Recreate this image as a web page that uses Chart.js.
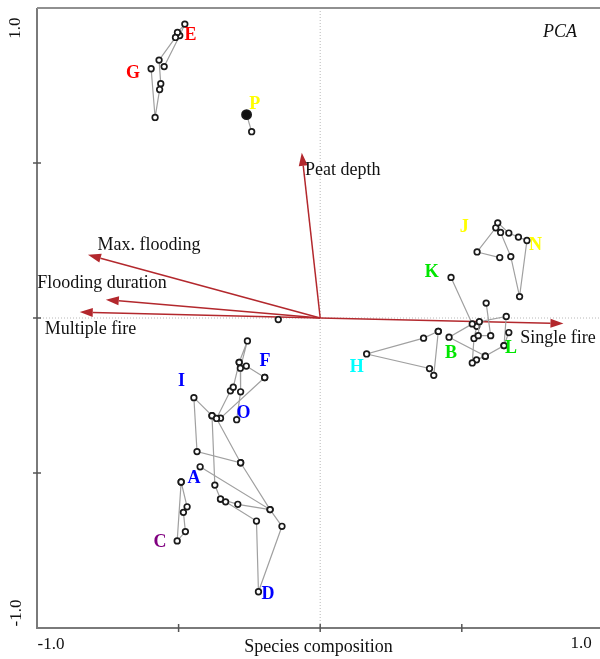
<!DOCTYPE html>
<html>
<head>
<meta charset="utf-8">
<script src="https://cdn.jsdelivr.net/npm/chart.js@4.4.1/dist/chart.umd.min.js"></script>
<style>
  body { margin: 0; background: #fff; }
</style>
</head>
<body>
<canvas id="grafico" width="600" height="659"></canvas>
<script>
// Trajetórias das parcelas (eixo 1, eixo 2)
const siteEG = [[-0.551,0.811],[-0.496,0.911],[-0.478,0.948],[-0.504,0.921],[-0.511,0.905],[-0.569,0.832],[-0.563,0.756],[-0.567,0.737],[-0.583,0.647],[-0.597,0.804]];
const siteP  = [[-0.260,0.656],[-0.242,0.601]];
const siteJN = [[0.634,0.195],[0.554,0.213],[0.620,0.291],[0.627,0.307],[0.666,0.274],[0.700,0.261],[0.730,0.250],[0.704,0.069],[0.673,0.198],[0.637,0.276]];
const siteKB = [[0.462,0.131],[0.537,-0.019],[0.455,-0.062],[0.583,-0.123],[0.649,-0.089],[0.666,-0.047]];
const siteL  = [[0.586,0.048],[0.602,-0.057],[0.558,-0.057],[0.562,-0.012],[0.657,0.005],[0.649,-0.089]];
const siteM  = [[0.583,-0.123],[0.552,-0.135],[0.537,-0.145],[0.543,-0.066],[0.553,-0.027]];
const siteH  = [[0.417,-0.043],[0.365,-0.065],[0.164,-0.116],[0.386,-0.163],[0.401,-0.185],[0.417,-0.043]];
const siteF  = [[-0.196,-0.192],[-0.261,-0.155],[-0.286,-0.143],[-0.257,-0.074],[-0.282,-0.162],[-0.281,-0.238],[-0.295,-0.328]];
const siteIO = [[-0.196,-0.192],[-0.352,-0.323],[-0.382,-0.315],[-0.446,-0.257],[-0.435,-0.431],[-0.281,-0.467],[-0.366,-0.324],[-0.317,-0.235],[-0.307,-0.223],[-0.286,-0.143]];
const siteD  = [[-0.382,-0.315],[-0.372,-0.539],[-0.352,-0.584],[-0.334,-0.593],[-0.225,-0.655],[-0.218,-0.883],[-0.135,-0.672],[-0.177,-0.618],[-0.281,-0.467]];
const siteA  = [[-0.424,-0.480],[-0.177,-0.618],[-0.291,-0.601],[-0.352,-0.584]];
const siteC  = [[-0.491,-0.529],[-0.470,-0.609],[-0.483,-0.627],[-0.476,-0.689],[-0.505,-0.719],[-0.491,-0.529]];
const siteSolo = [[-0.148,-0.005]];

// Vetores das variáveis ambientais
const vetorNomes = ['Peat depth', 'Max. flooding', 'Flooding duration', 'Multiple fire', 'Single fire'];
const vetorX = [-0.065, -0.820, -0.757, -0.849, 0.859];
const vetorY = [0.533, 0.204, 0.059, 0.019, -0.018];

// Letras dos grupos
const grupoLetras = ['E','G','P','J','N','K','B','L','H','F','I','O','A','C','D'];
const grupoX = [-0.458,-0.661,-0.231,0.509,0.760,0.394,0.462,0.674,0.129,-0.195,-0.490,-0.271,-0.446,-0.566,-0.184];
const grupoY = [0.911,0.790,0.688,0.292,0.234,0.148,-0.113,-0.099,-0.158,-0.140,-0.205,-0.306,-0.518,-0.723,-0.890];

// estilo / posicionamento
const grupoCores = ['#ff0000','#ff0000','#ffff00','#ffff00','#ffff00','#00e600','#00e600','#00e600','#00ffff','#0000ff','#0000ff','#0000ff','#0000ff','#800080','#0000ff'];
const rotuloVetorX = [-0.054, -0.786, -0.999, -0.973, 0.706];
const rotuloVetorY = [0.476, 0.236, 0.111, -0.035, -0.064];

const serif = '"Liberation Serif", "DejaVu Serif", serif';
const vermelho = '#b3282d';

function pontos(arr) {
    return arr.map(p => ({ x: p[0], y: p[1] }));
}

function trilha(arr, extra) {
    return Object.assign({
        data: pontos(arr),
        showLine: true,
        borderColor: '#a0a0a0',
        borderWidth: 1.2,
        pointRadius: 2.8,
        pointHoverRadius: 2.8,
        pointBorderWidth: 1.7,
        pointBorderColor: '#1a1a1a',
        pointBackgroundColor: '#ffffff'
    }, extra || {});
}

const desenhos = {
    id: 'desenhos',
    beforeDatasetsDraw(chart) {
        const ctx = chart.ctx;
        const a = chart.chartArea;
        const sx = chart.scales.x, sy = chart.scales.y;
        const x0 = sx.getPixelForValue(0), y0 = sy.getPixelForValue(0);
        ctx.save();
        // linhas pontilhadas do zero
        ctx.strokeStyle = '#b8b8b8';
        ctx.lineWidth = 1;
        ctx.setLineDash([1, 2]);
        ctx.beginPath();
        ctx.moveTo(x0, a.top); ctx.lineTo(x0, a.bottom);
        ctx.moveTo(a.left, y0); ctx.lineTo(a.right, y0);
        ctx.stroke();
        ctx.setLineDash([]);

        // vetores
        ctx.strokeStyle = vermelho;
        ctx.fillStyle = vermelho;
        ctx.lineWidth = 1.5;
        for (let i = 0; i < vetorNomes.length; i++) {
            const tx = sx.getPixelForValue(vetorX[i]);
            const ty = sy.getPixelForValue(vetorY[i]);
            const ang = Math.atan2(ty - y0, tx - x0);
            const len = 13, half = 4.5;
            const bx = tx - len * Math.cos(ang), by = ty - len * Math.sin(ang);
            ctx.beginPath();
            ctx.moveTo(x0, y0); ctx.lineTo(bx, by);
            ctx.stroke();
            ctx.beginPath();
            ctx.moveTo(tx, ty);
            ctx.lineTo(bx + half * Math.sin(ang), by - half * Math.cos(ang));
            ctx.lineTo(bx - half * Math.sin(ang), by + half * Math.cos(ang));
            ctx.closePath();
            ctx.fill();
        }
        ctx.restore();
    },
    afterDraw(chart) {
        const ctx = chart.ctx;
        const a = chart.chartArea;
        const sx = chart.scales.x, sy = chart.scales.y;
        ctx.save();

        // eixos e moldura
        ctx.strokeStyle = '#7a7a7a';
        ctx.lineWidth = 2;
        ctx.beginPath();
        ctx.moveTo(a.left, a.top); ctx.lineTo(a.left, a.bottom); ctx.lineTo(a.right, a.bottom);
        ctx.stroke();
        ctx.strokeStyle = '#909090';
        ctx.beginPath();
        ctx.moveTo(a.left, a.top); ctx.lineTo(a.right, a.top);
        ctx.stroke();

        ctx.strokeStyle = '#555';
        ctx.lineWidth = 1.5;
        [-0.5, 0, 0.5].forEach(v => {
            const py = sy.getPixelForValue(v);
            ctx.beginPath(); ctx.moveTo(a.left - 4, py); ctx.lineTo(a.left + 4, py); ctx.stroke();
            const px = sx.getPixelForValue(v);
            ctx.beginPath(); ctx.moveTo(px, a.bottom - 4); ctx.lineTo(px, a.bottom + 4); ctx.stroke();
        });

        // textos dos eixos
        ctx.fillStyle = '#111';
        ctx.font = '17px ' + serif;
        ctx.textBaseline = 'middle';
        ctx.textAlign = 'center';
        ctx.fillText('-1.0', 51, 645);
        ctx.fillText('1.0', 581, 644);
        ctx.font = '18px ' + serif;
        ctx.fillText('Species composition', (a.left + a.right) / 2, 647);
        ctx.font = '17px ' + serif;
        ctx.save();
        ctx.translate(16, 28); ctx.rotate(-Math.PI / 2); ctx.fillText('1.0', 0, 0);
        ctx.restore();
        ctx.save();
        ctx.translate(17, 613); ctx.rotate(-Math.PI / 2); ctx.fillText('-1.0', 0, 0);
        ctx.restore();

        ctx.font = 'italic 18px ' + serif;
        ctx.textAlign = 'right';
        ctx.fillText('PCA', a.right - 23, a.top + 24);

        // rótulos dos vetores
        ctx.font = '18px ' + serif;
        ctx.textAlign = 'left';
        for (let i = 0; i < vetorNomes.length; i++) {
            ctx.fillText(vetorNomes[i], sx.getPixelForValue(rotuloVetorX[i]), sy.getPixelForValue(rotuloVetorY[i]));
        }

        // letras dos grupos
        ctx.font = 'bold 18px ' + serif;
        ctx.textAlign = 'center';
        for (let i = 0; i < grupoLetras.length; i++) {
            ctx.fillStyle = grupoCores[i];
            ctx.fillText(grupoLetras[i], sx.getPixelForValue(grupoX[i]), sy.getPixelForValue(grupoY[i]));
        }
        ctx.restore();
    }
};

const ctx = document.getElementById('grafico').getContext('2d');
new Chart(ctx, {
    type: 'scatter',
    data: {
        datasets: [
            trilha(siteEG),
            trilha(siteP, { pointRadius: [4.6, 2.8], pointBackgroundColor: ['#111', '#fff'] }),
            trilha(siteJN),
            trilha(siteKB),
            trilha(siteL),
            trilha(siteM),
            trilha(siteH),
            trilha(siteF),
            trilha(siteIO),
            trilha(siteD),
            trilha(siteA),
            trilha(siteC),
            trilha(siteSolo)
        ]
    },
    options: {
        responsive: false,
        animation: false,
        layout: { autoPadding: false, padding: { left: 37, right: 0, top: 8, bottom: 31 } },
        plugins: { legend: { display: false }, tooltip: { enabled: false } },
        scales: {
            x: { type: 'linear', min: -1, max: 0.988, display: false },
            y: { type: 'linear', min: -1, max: 1, display: false }
        }
    },
    plugins: [desenhos]
});
</script>
</body>
</html>
